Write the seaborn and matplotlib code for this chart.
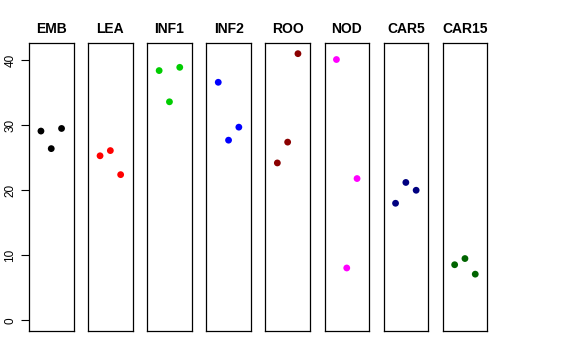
import numpy as np
import pandas as pd
import matplotlib
matplotlib.use("Agg")
import matplotlib.pyplot as plt
import seaborn as sns

tissues = ["EMB", "LEA", "INF1", "INF2", "ROO", "NOD", "CAR5", "CAR15"]
colors = ["black", "red", "#00CD00", "blue", "#8B0000", "magenta", "#000080", "#006400"]
rep1 = [29.1, 25.3, 38.4, 36.6, 24.2, 40.1, 18.0, 8.55]
rep2 = [26.4, 26.1, 33.6, 27.7, 27.4, 8.05, 21.2, 9.5]
rep3 = [29.5, 22.4, 38.9, 29.7, 41.0, 21.8, 20.0, 7.1]

df = pd.DataFrame({
    "tissue": np.repeat(tissues, 3),
    "rep": [1, 2, 3] * len(tissues),
    "value": np.column_stack([rep1, rep2, rep3]).ravel(),
})

sns.set_style("white")
plt.rcParams["font.family"] = ["Liberation Sans", "DejaVu Sans"]
plt.rcParams["text.color"] = "black"
plt.rcParams["axes.labelcolor"] = "black"
plt.rcParams["xtick.color"] = "black"
plt.rcParams["ytick.color"] = "black"

fig = plt.figure(figsize=(5.76, 3.6), dpi=100)
W, H = 576.0, 360.0
ymax = df["value"].max()
pad = ymax * 0.04

for i, (t, c) in enumerate(zip(tissues, colors)):
    left = 29 + i * 59.1
    ax = fig.add_axes([left / W, 29 / H, 44.5 / W, 288 / H])
    sub = df[df["tissue"] == t]
    sns.scatterplot(data=sub, x="rep", y="value", color=c, s=24,
                    edgecolor="none", ax=ax, legend=False)
    ax.set_xlim(-0.16, 4.16)
    ax.set_ylim(-pad, ymax + pad)
    ax.set_xticks([])
    ax.set_xlabel("")
    ax.set_ylabel("")
    for sp in ax.spines.values():
        sp.set_visible(True)
        sp.set_color("black")
        sp.set_linewidth(0.9)
    ax.set_title(t, fontsize=10, fontweight="bold", pad=7, color="black")
    if i == 0:
        ax.set_yticks([0, 10, 20, 30, 40])
        ax.tick_params(axis="y", direction="out", length=6, width=0.8,
                       labelsize=8.5, pad=3, left=True, colors="black")
        for lab in ax.get_yticklabels():
            lab.set_rotation(90)
            lab.set_va("center")
    else:
        ax.set_yticks([])

fig.savefig("out.png", dpi=100)
